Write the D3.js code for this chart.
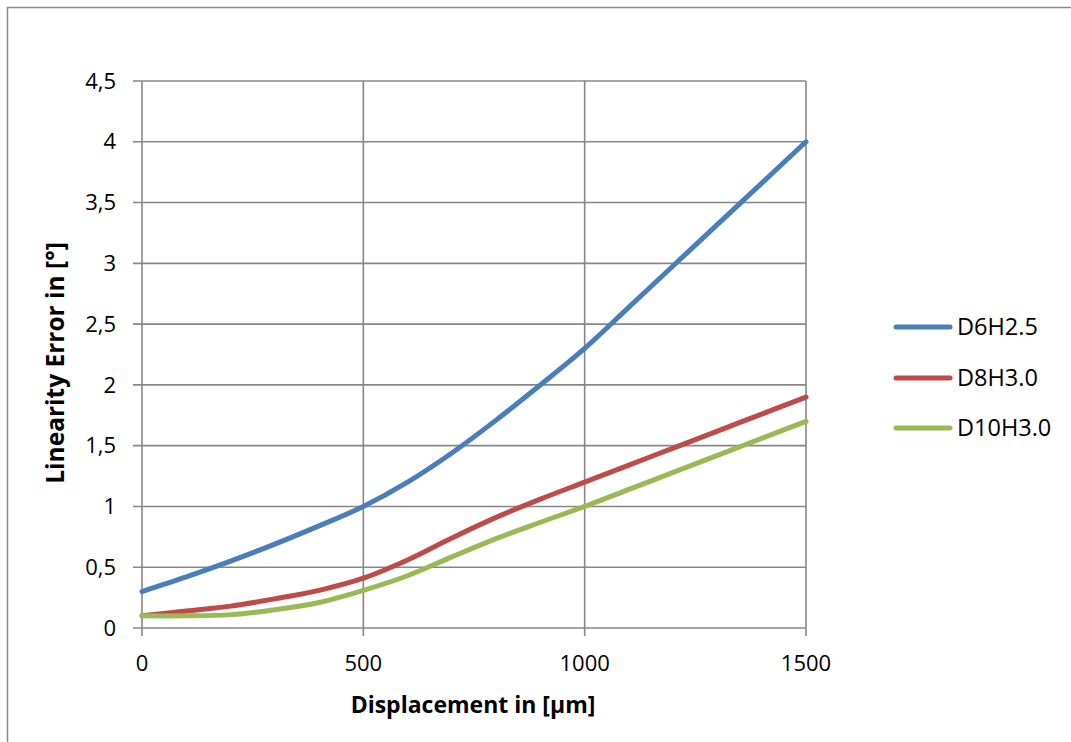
<!DOCTYPE html>
<html><head><meta charset="utf-8">
<script src="https://cdn.jsdelivr.net/npm/d3@7"></script>
<style>body{margin:0;background:#fff}svg{display:block}text{font-family:"Open Sans",sans-serif}</style>
</head><body>
<svg id="c" width="1071" height="742"></svg>
<script>
const xValues = [0,100,200,300,400,500,600,700,800,900,1000,1100,1200,1300,1400,1500];
const seriesNames = ["D6H2.5","D8H3.0","D10H3.0"];
const d6h25 = [0.3,0.42,0.55,0.69,0.84,1.0,1.2,1.44,1.71,2.0,2.3,2.64,2.98,3.32,3.66,4.0];
const d8h30 = [0.1,0.14,0.18,0.24,0.31,0.41,0.56,0.74,0.91,1.06,1.2,1.34,1.48,1.62,1.76,1.9];
const d10h30 = [0.1,0.1,0.11,0.15,0.21,0.31,0.43,0.585,0.735,0.87,1.0,1.14,1.28,1.42,1.56,1.7];
const colors = ["#4a7ebb","#be4b48","#98b954"];
const xTicks = [0,500,1000,1500];
const yTicks = [0,0.5,1,1.5,2,2.5,3,3.5,4,4.5];

const svg = d3.select("#c");
svg.append("rect").attr("x",7.5).attr("y",7.5).attr("width",1080).attr("height",760)
  .attr("fill","#fff").attr("stroke","#888").attr("stroke-width",1.5);

const x = d3.scaleLinear().domain([0,1500]).range([142,806]);
const y = d3.scaleLinear().domain([0,4.5]).range([628,81]);
const grid = "#878787";

svg.append("g").selectAll("line").data(yTicks).join("line")
  .attr("x1",133).attr("x2",806).attr("y1",d=>y(d)).attr("y2",d=>y(d))
  .attr("stroke",grid).attr("stroke-width",1.6);
svg.append("g").selectAll("line").data(xTicks).join("line")
  .attr("x1",d=>x(d)).attr("x2",d=>x(d)).attr("y1",81).attr("y2",636)
  .attr("stroke",grid).attr("stroke-width",1.6);

const fmt = d => String(d).replace(".",",");
svg.append("g").selectAll("text").data(yTicks).join("text")
  .attr("x",116).attr("y",d=>y(d)).attr("dy","0.35em").attr("text-anchor","end")
  .attr("font-size",22).attr("fill","#000").text(fmt);
svg.append("g").selectAll("text").data(xTicks).join("text")
  .attr("x",d=>x(d)).attr("y",671).attr("text-anchor","middle")
  .attr("font-size",22).attr("fill","#000").text(d=>d);

svg.append("text").attr("x",473).attr("y",713).attr("text-anchor","middle")
  .attr("font-size",23).attr("font-weight","bold").text("Displacement in [µm]");
svg.append("text").attr("transform","translate(64,363) rotate(-90)").attr("text-anchor","middle")
  .attr("font-size",24.5).attr("font-weight","bold").text("Linearity Error in [°]");

const all = [d6h25,d8h30,d10h30];
const line = d3.line().x((d,i)=>x(xValues[i])).y(d=>y(d)).curve(d3.curveCatmullRom.alpha(0.5));
svg.append("g").selectAll("path").data(all).join("path")
  .attr("d",line).attr("fill","none").attr("stroke",(d,i)=>colors[i])
  .attr("stroke-width",5).attr("stroke-linejoin","round").attr("stroke-linecap","round");

const legY = [327,378,428];
const lg = svg.append("g").selectAll("g").data(seriesNames).join("g");
lg.append("line").attr("x1",896).attr("x2",950).attr("y1",(d,i)=>legY[i]).attr("y2",(d,i)=>legY[i])
  .attr("stroke",(d,i)=>colors[i]).attr("stroke-width",5).attr("stroke-linecap","round");
lg.append("text").attr("x",957).attr("y",(d,i)=>legY[i]).attr("dy","0.35em")
  .attr("font-size",23.5).text(d=>d);
</script>
</body></html>
